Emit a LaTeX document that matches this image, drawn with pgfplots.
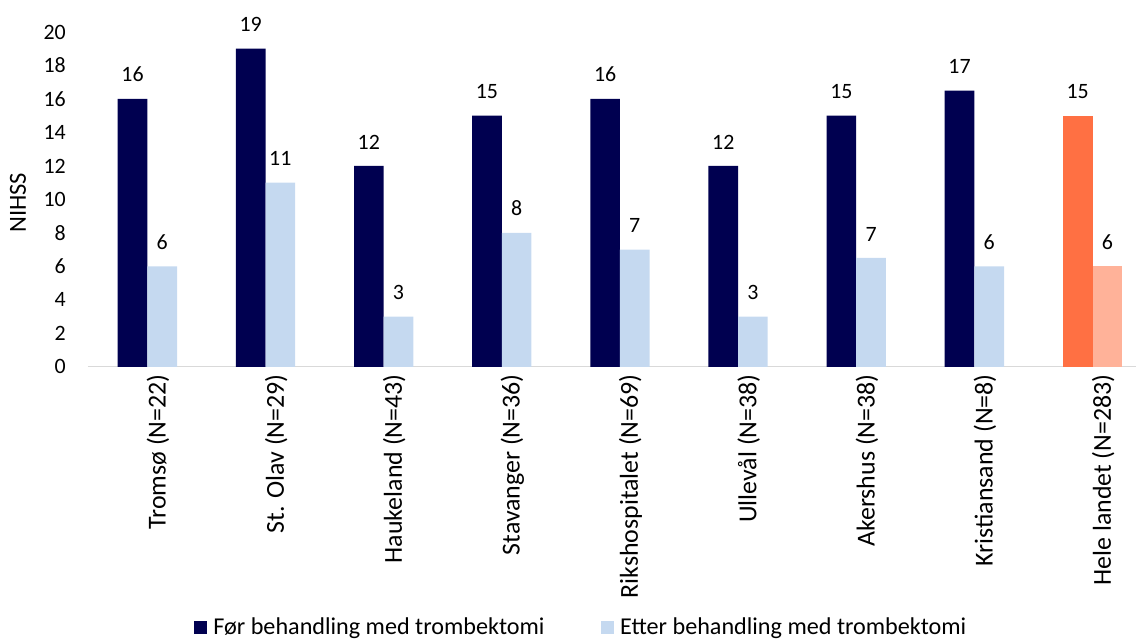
\documentclass[border=0pt]{standalone}
\usepackage{fontspec}
\setmainfont{Carlito}
\usepackage{pgfplots}
\pgfplotsset{compat=1.18}

\definecolor{navy}{RGB}{0,0,80}
\definecolor{lightblue}{RGB}{197,217,240}
\definecolor{orng}{RGB}{255,112,67}
\definecolor{lightorng}{RGB}{255,178,153}
\definecolor{axisgray}{RGB}{217,217,217}

\begin{document}
\fontsize{16.5}{19}\selectfont
\begin{tikzpicture}
\begin{axis}[
    at={(0,0)}, anchor=south west,
    scale only axis,
    width=786.75bp, height=251.25bp,
    xmin=-0.503, xmax=8.371,
    ymin=0, ymax=20,
    ytick={0,2,...,20},
    xtick={0,...,8},
    xticklabels={Tromsø (N=22), St. Olav (N=29), Haukeland (N=43), Stavanger (N=36),
        Rikshospitalet (N=69), Ullevål (N=38), Akershus (N=38), Kristiansand (N=8),
        Hele landet (N=283)},
    xticklabel style={rotate=90, anchor=east, yshift=-8bp, font=\fontsize{19.5}{22}\selectfont},
    yticklabel style={xshift=-11bp},
    /pgf/number format/assume math mode=true,
    axis x line*=bottom, axis y line*=left,
    x axis line style={axisgray, line width=1pt, -},
    y axis line style={draw=none},
    major tick length=0pt,
    ylabel={NIHSS},
    every axis y label/.style={at={(axis description cs:-0.0667,0.49)}, rotate=90, anchor=center,
        font=\fontsize{18.5}{21}\selectfont},
    ybar, bar width=0.251,
    point meta=explicit symbolic,
    nodes near coords={\pgfplotspointmeta},
    every node near coord/.append style={yshift=7bp, black},
    legend style={at={(axis description cs:0.4725,-0.779)}, anchor=center, draw=none,
        font=\fontsize{18.2}{21}\selectfont,
        legend columns=2, /tikz/every even column/.append style={column sep=38bp}},
    legend image code/.code={\fill[#1] (0bp,-5bp) rectangle (9.75bp,4.75bp);},
    legend cell align=left,
    legend style={nodes={inner xsep=4.5bp}},
]
\addplot[fill=navy, draw=none, bar shift=-0.1255] coordinates {
    (0,16) [16] (1,19) [19] (2,12) [12] (3,15) [15]
    (4,16) [16] (5,12) [12] (6,15) [15] (7,16.5) [17]
};
\addlegendentry{Før behandling med trombektomi}
\addplot[fill=lightblue, draw=none, bar shift=0.1255] coordinates {
    (0,6) [6] (1,11) [11] (2,3) [3] (3,8) [8]
    (4,7) [7] (5,3) [3] (6,6.5) [7] (7,6) [6]
};
\addlegendentry{Etter behandling med trombektomi}
\addplot[fill=orng, draw=none, bar shift=-0.1255, forget plot] coordinates {
    (8,15) [15]
};
\addplot[fill=lightorng, draw=none, bar shift=0.1255, forget plot] coordinates {
    (8,6) [6]
};
\end{axis}
\path[use as bounding box] (-66bp,-205.5bp) rectangle (786.75bp,275.25bp);
\end{tikzpicture}
\end{document}
